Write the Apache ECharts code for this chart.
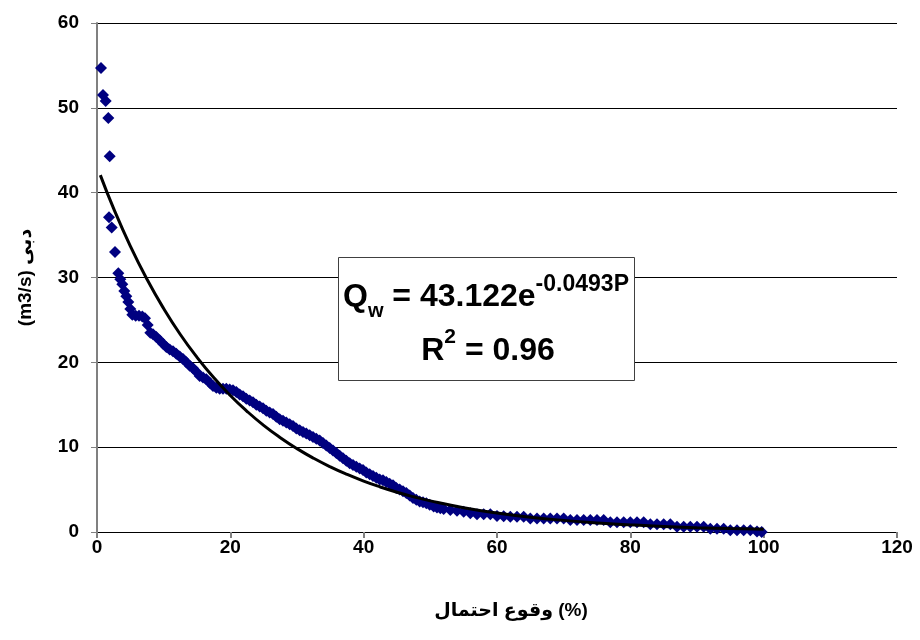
<!DOCTYPE html>
<html>
<head>
<meta charset="utf-8">
<script src="https://cdn.jsdelivr.net/npm/echarts@6/dist/echarts.min.js"></script>
<style>
  html, body { margin: 0; background: #fff; }
  #chart { width: 920px; height: 640px; }
</style>
</head>
<body>
<div id="chart"></div>
<script>
// exceedance probability (%) and discharge (m3/s)
const probability = [
  0.6, 0.9, 1.3, 1.7, 1.9, 1.8, 2.2, 2.7, 3.2, 3.5, 3.8, 4.1, 4.4, 4.7, 5.0, 5.3, 5.8, 6.3, 6.8, 7.2,
  7.6, 8.0, 8.4, 8.9, 9.4, 9.9, 10.4, 10.9, 11.4, 11.9, 12.4, 12.9, 13.4, 13.9, 14.4, 14.9, 15.4, 15.9, 16.4, 16.9,
  17.4, 17.9, 18.4, 18.9, 19.4, 19.9, 20.4, 20.9, 21.4, 21.9, 22.4, 22.9, 23.4, 23.9, 24.4, 24.9, 25.4, 25.9, 26.4, 26.9,
  27.4, 27.9, 28.4, 28.9, 29.4, 29.9, 30.4, 30.9, 31.4, 31.9, 32.4, 32.9, 33.4, 33.9, 34.4, 34.9, 35.4, 35.9, 36.4, 36.9,
  37.4, 37.9, 38.4, 38.9, 39.4, 39.9, 40.4, 40.9, 41.4, 41.9, 42.4, 42.9, 43.4, 43.9, 44.4, 44.9, 45.4, 45.9, 46.4, 46.9,
  47.4, 47.9, 48.4, 48.9, 49.4, 49.9, 50.5, 51, 51.5, 52, 53, 54, 55, 56, 57, 58, 59, 60, 61, 62,
  63, 64, 65, 66, 67, 68, 69, 70, 71, 72, 73, 74, 75, 76, 77, 78, 79, 80, 81, 82,
  83, 84, 85, 86, 87, 88, 89, 90, 91, 92, 93, 94, 95, 96, 97, 98, 99, 99.7
];
const discharge = [
  54.7, 51.5, 50.8, 48.8, 44.3, 37.1, 35.9, 33.0, 30.5, 29.8, 29.2, 28.4, 27.8, 27.1, 26.3, 25.6, 25.5, 25.5, 25.4, 25.2,
  24.4, 23.5, 23.3, 23.0, 22.6, 22.2, 21.8, 21.5, 21.3, 21.0, 20.7, 20.4, 20.0, 19.6, 19.3, 18.9, 18.4, 18.2, 18.0, 17.6,
  17.2, 17.0, 16.9, 16.9, 16.9, 16.8, 16.7, 16.5, 16.2, 16.0, 15.7, 15.5, 15.3, 15.0, 14.8, 14.6, 14.3, 14.1, 13.9, 13.6,
  13.3, 13.1, 12.9, 12.7, 12.5, 12.2, 12.0, 11.8, 11.6, 11.4, 11.2, 11.0, 10.8, 10.5, 10.2, 9.9, 9.6, 9.3, 9.0, 8.7,
  8.4, 8.1, 7.9, 7.7, 7.5, 7.3, 7.0, 6.8, 6.6, 6.4, 6.2, 6.1, 5.9, 5.7, 5.5, 5.2, 5.0, 4.8, 4.6, 4.3,
  4.0, 3.8, 3.6, 3.5, 3.4, 3.2, 3.0, 2.9, 2.8, 2.7, 2.6, 2.5, 2.4, 2.2, 2.1, 2.1, 2.1, 1.9, 1.85, 1.8,
  1.8, 1.8, 1.6, 1.6, 1.6, 1.6, 1.6, 1.6, 1.4, 1.4, 1.4, 1.4, 1.4, 1.4, 1.15, 1.15, 1.15, 1.15, 1.15, 1.15,
  0.92, 0.92, 0.92, 0.92, 0.63, 0.63, 0.63, 0.63, 0.63, 0.38, 0.38, 0.38, 0.2, 0.2, 0.2, 0.2, 0.05, 0
];

// exponential trend line (Qw = 43.122 e^-0.0493P), values listed
const trendP = [0.5, 2.5, 5, 7.5, 10, 12.5, 15, 17.5, 20, 22.5, 25, 27.5, 30, 32.5, 35, 37.5, 40, 42.5, 45, 47.5,
  50, 55, 60, 65, 70, 75, 80, 85, 90, 95, 100];
const trendQ = [42.07, 38.12, 33.70, 29.79, 26.34, 23.28, 20.59, 18.20, 16.09, 14.23, 12.57, 11.12, 9.83, 8.69, 7.68, 6.79, 6.00, 5.31, 4.69, 4.15,
  3.67, 2.87, 2.24, 1.75, 1.37, 1.07, 0.84, 0.65, 0.51, 0.40, 0.31];

// word order chosen so the canvas (ltr) shows it like the original picture
const xTitle = "وقوع احتمال (%)";
const yTitle = "(m3/s) دبی";

const FONT = "'Liberation Sans', Arial, 'DejaVu Sans', sans-serif";

const chart = echarts.init(document.getElementById("chart"));

const option = {
  animation: false,
  backgroundColor: "#fff",
  grid: { left: 97, right: 23, top: 23, bottom: 108 },
  xAxis: {
    type: "value",
    min: 0,
    max: 120,
    interval: 20,
    name: xTitle,
    nameLocation: "middle",
    nameGap: 69,
    nameTextStyle: { fontFamily: FONT, fontSize: 19, fontWeight: "bold", color: "#000", padding: [0, 0, 0, 28] },
    axisLine: { show: true, onZero: false, lineStyle: { color: "#000", width: 1 } },
    axisTick: { show: true, inside: false, length: 6, lineStyle: { color: "#808080", width: 2 } },
    axisLabel: { fontFamily: FONT, fontSize: 19, fontWeight: "bold", color: "#000", margin: 6 },
    splitLine: { show: false }
  },
  yAxis: {
    type: "value",
    min: 0,
    max: 60,
    interval: 10,
    name: yTitle,
    nameLocation: "middle",
    nameGap: 62,
    nameTextStyle: { fontFamily: FONT, fontSize: 19, fontWeight: "bold", color: "#000" },
    axisLine: { show: true, lineStyle: { color: "#808080", width: 2 } },
    axisTick: { show: true, inside: false, length: 6, lineStyle: { color: "#808080", width: 1 } },
    axisLabel: { fontFamily: FONT, fontSize: 19, fontWeight: "bold", color: "#000", margin: 18 },
    splitLine: { show: true, lineStyle: { color: "#000", width: 1 } }
  },
  series: [
    {
      name: "Discharge",
      type: "scatter",
      symbol: "diamond",
      symbolSize: 12,
      itemStyle: { color: "#000080", opacity: 1 },
      data: probability.map((p, i) => [p, discharge[i]]),
      z: 2
    },
    {
      name: "Expon.",
      type: "line",
      smooth: true,
      showSymbol: false,
      lineStyle: { color: "#000", width: 3 },
      data: trendP.map((p, i) => [p, trendQ[i]]),
      z: 3
    }
  ],
  graphic: [
    {
      type: "rect",
      z: 10,
      shape: { x: 338.5, y: 257.5, width: 296, height: 123 },
      style: { fill: "#fff", stroke: "#404040", lineWidth: 1 }
    },
    {
      type: "text",
      z: 11,
      x: 486,
      y: 273,
      style: {
        text: "{m|Q}{sub|w}{m| = 43.122e}{sup|-0.0493P}",
        align: "center",
        verticalAlign: "top",
        rich: {
          m: { fontFamily: FONT, fontSize: 32, fontWeight: "bold", fill: "#000", lineHeight: 48 },
          sub: { fontFamily: FONT, fontSize: 20, fontWeight: "bold", fill: "#000", lineHeight: 38, verticalAlign: "bottom" },
          sup: { fontFamily: FONT, fontSize: 23, fontWeight: "bold", fill: "#000", lineHeight: 23, verticalAlign: "top" }
        }
      }
    },
    {
      type: "text",
      z: 11,
      x: 488,
      y: 327,
      style: {
        text: "{m|R}{sup|2}{m| = 0.96}",
        align: "center",
        verticalAlign: "top",
        rich: {
          m: { fontFamily: FONT, fontSize: 32, fontWeight: "bold", fill: "#000", lineHeight: 48 },
          sup: { fontFamily: FONT, fontSize: 21, fontWeight: "bold", fill: "#000", lineHeight: 27, verticalAlign: "top" }
        }
      }
    }
  ]
};

chart.setOption(option);
</script>
</body>
</html>
